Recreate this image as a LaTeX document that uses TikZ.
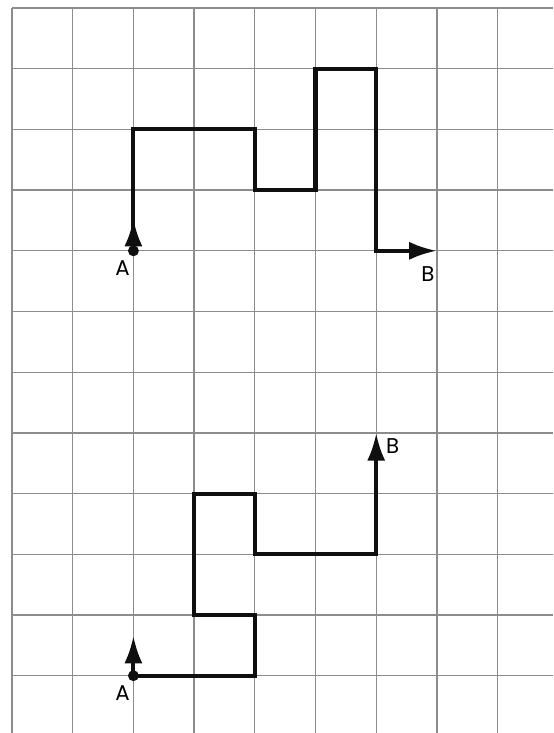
\documentclass[tikz,border=0pt]{standalone}
\usepackage{fontspec}
\newfontfamily\lblfont{Poppins}
\usepackage{tkz-euclide}
\usetikzlibrary{arrows.meta,calc}
\definecolor{GridClr}{RGB}{140,140,140}
\definecolor{PathClr}{RGB}{15,15,15}

\tikzset{
  route/.style={line width=1.9pt,color=PathClr,line join=miter},
  tip/.style={-{Latex[length=13pt,width=8.5pt]}},
  lbl/.style={font=\lblfont\fontsize{10}{12}\selectfont,inner sep=0pt}
}

\begin{document}
\begin{tikzpicture}
\useasboundingbox (-0.198,-11.944) rectangle (8.913,0.132);
\draw[GridClr,line width=0.6pt] (0,-11.944) grid (8.913,0);

% upper route
\tkzDefPoint(2,-4){A}
\tkzDefPoint(2,-2){P1}
\tkzDefPoint(4,-2){P2}
\tkzDefPoint(4,-3){P3}
\tkzDefPoint(5,-3){P4}
\tkzDefPoint(5,-1){P5}
\tkzDefPoint(6,-1){P6}
\tkzDefPoint(6,-4){P7}
\tkzDefPoint(7,-4){B}

% lower route
\tkzDefPoint(2,-11){A'}
\tkzDefPoint(4,-11){Q1}
\tkzDefPoint(4,-10){Q2}
\tkzDefPoint(3,-10){Q3}
\tkzDefPoint(3,-8){Q4}
\tkzDefPoint(4,-8){Q5}
\tkzDefPoint(4,-9){Q6}
\tkzDefPoint(6,-9){Q7}
\tkzDefPoint(6,-7){B'}

\draw[route,tip] (A)--(P1)--(P2)--(P3)--(P4)--(P5)--(P6)--(P7)--(B);
\draw[route,tip] (A) -- ($(A)+(0,0.53)$);

\draw[route,tip] (A')--(Q1)--(Q2)--(Q3)--(Q4)--(Q5)--(Q6)--(Q7)--(B');
\draw[route,tip] (A') -- ($(A')+(0,0.66)$);

\fill[PathClr] (A) circle (0.09);
\fill[PathClr] (A') circle (0.09);

\node[lbl] (labA) at ($(A)+(-0.18,-0.29)$) {A};
\node[lbl] (labB) at ($(B)+(-0.15,-0.38)$) {B};
\node[lbl] (labA') at ($(A')+(-0.18,-0.29)$) {A};
\node[lbl] (labB') at ($(B')+(0.27,-0.21)$) {B};

\end{tikzpicture}
\end{document}
